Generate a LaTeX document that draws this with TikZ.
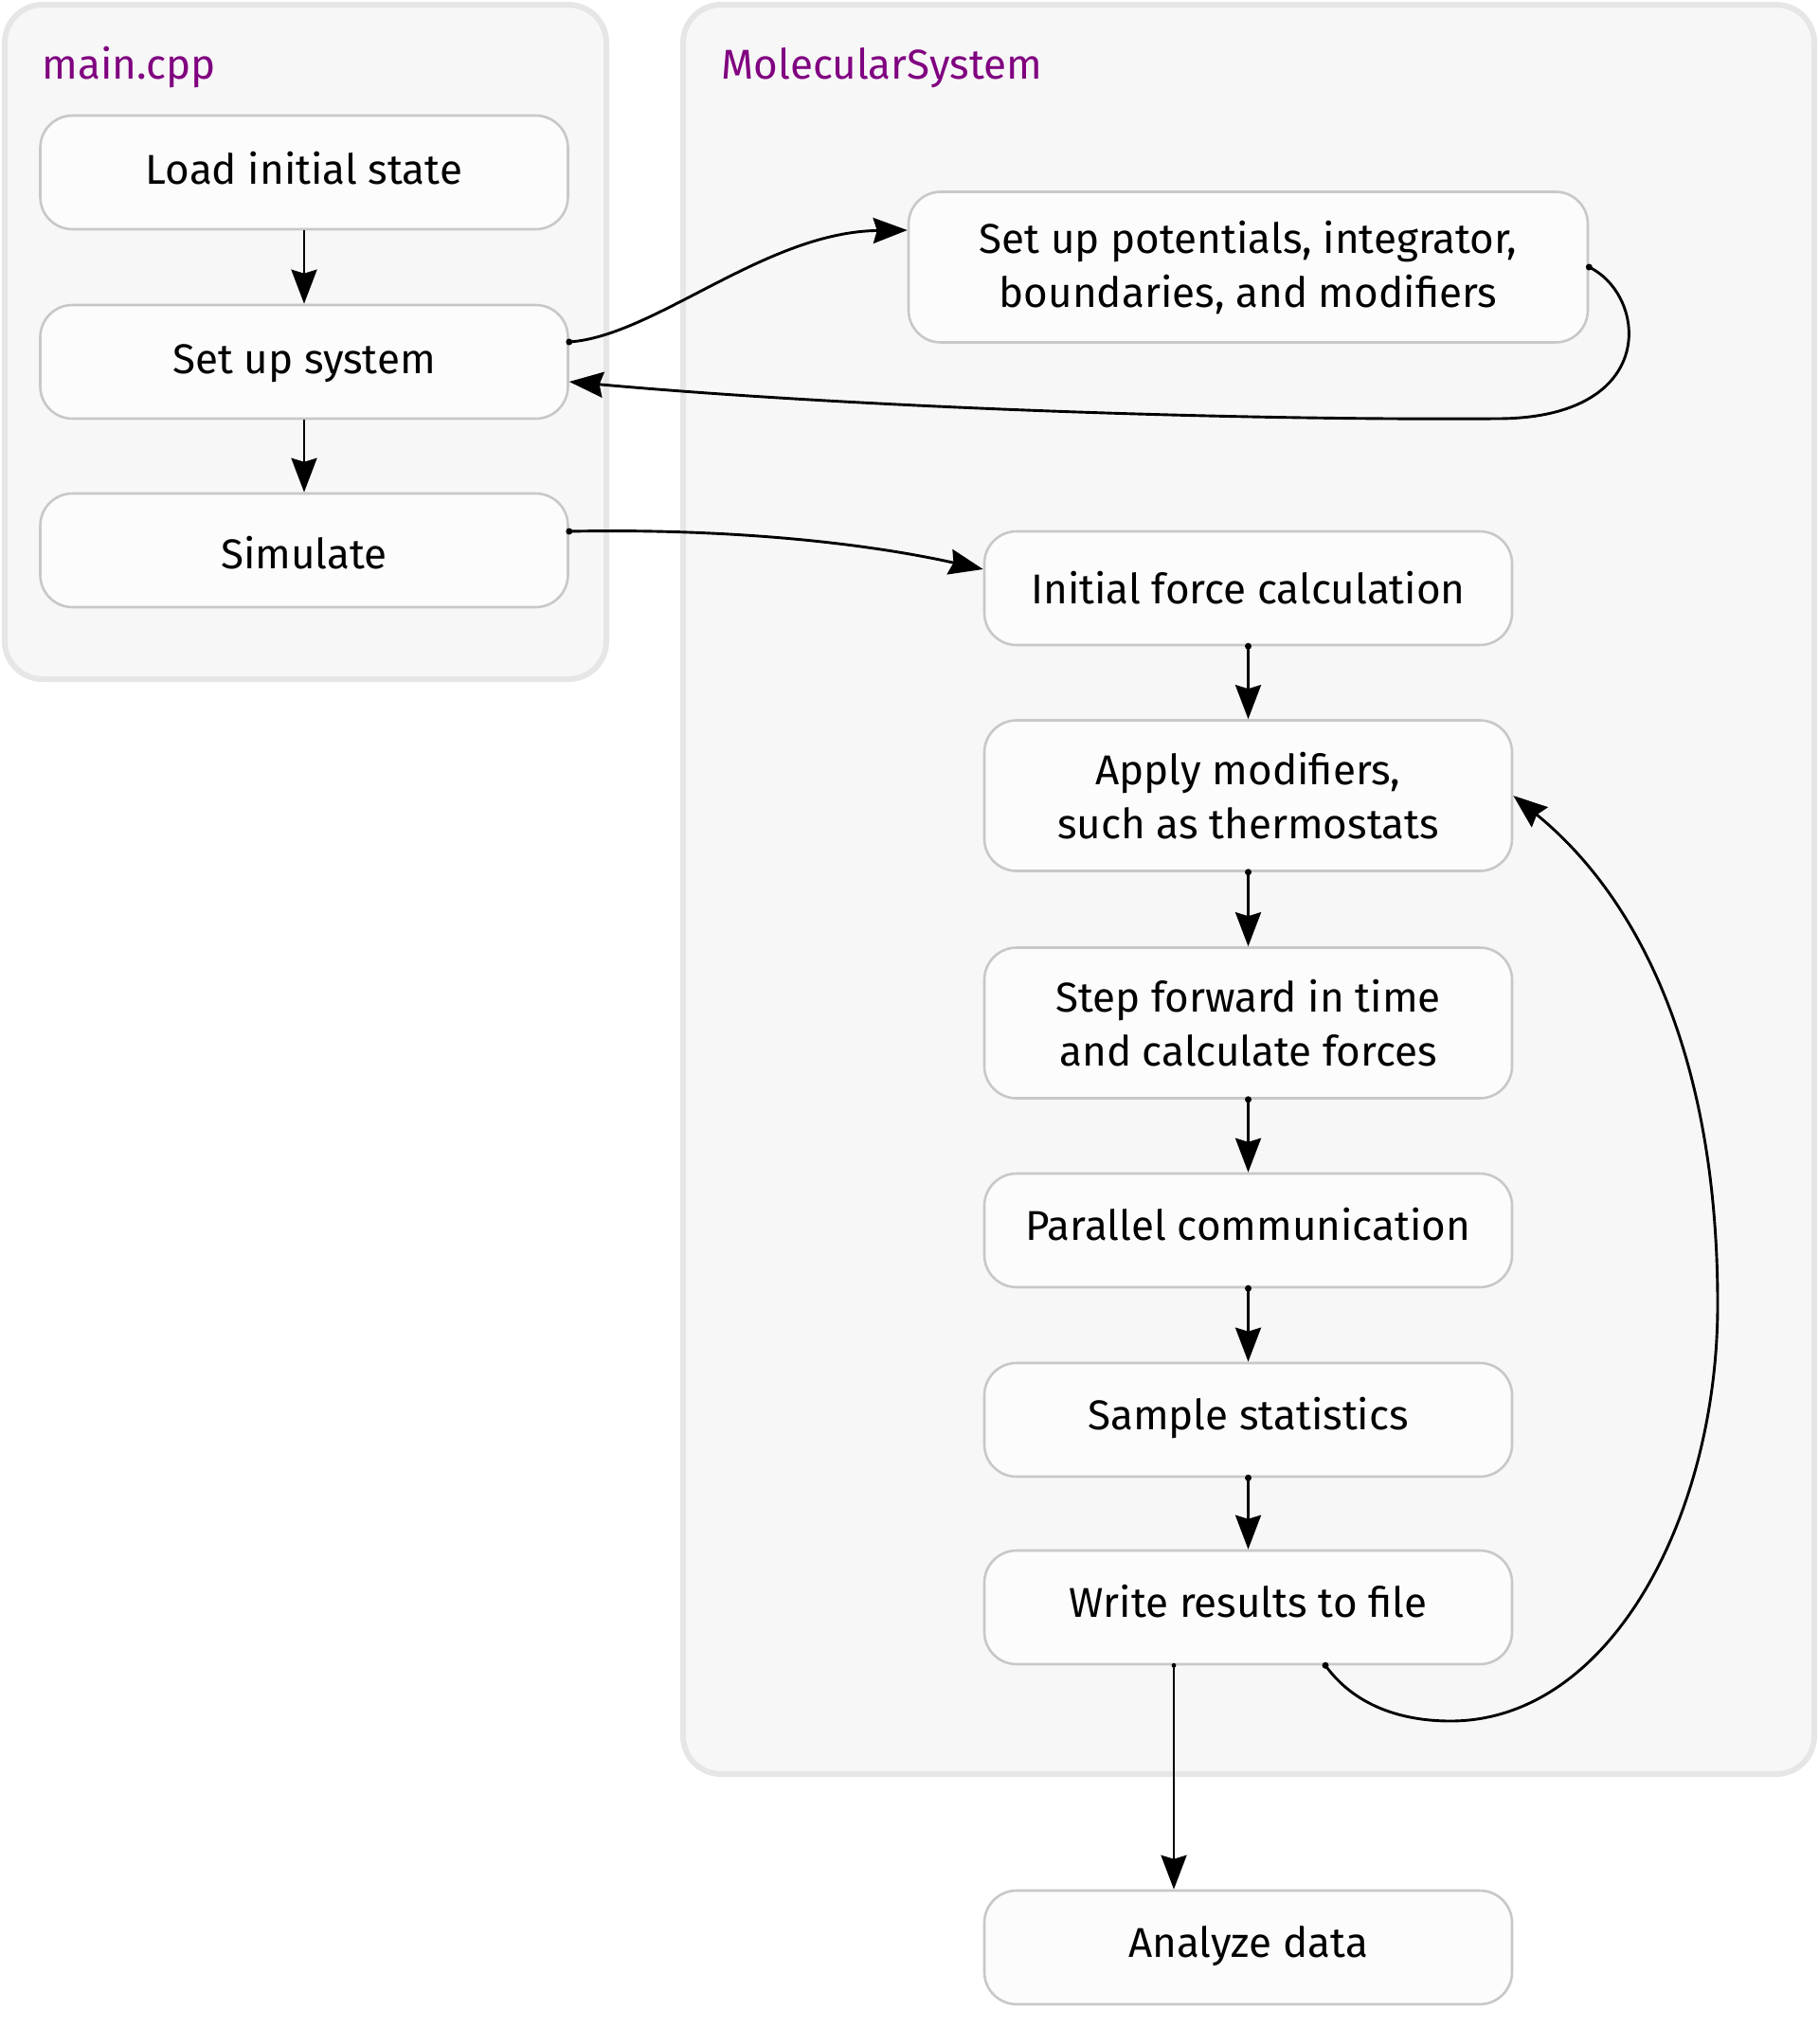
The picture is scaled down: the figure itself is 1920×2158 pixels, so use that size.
\documentclass[tikz,border=0pt]{standalone}
\usepackage{fontspec}
\setmainfont{Fira Sans}
\usetikzlibrary{arrows.meta}
\definecolor{contfill}{HTML}{F7F7F7}
\definecolor{contdraw}{HTML}{E6E6E6}
\definecolor{nodefill}{HTML}{FCFCFC}
\definecolor{nodedraw}{HTML}{C8C8C8}
\definecolor{lblpurple}{HTML}{800080}
\begin{document}
\begin{tikzpicture}[x=0.5pt,y=-0.5pt,
  container/.style={draw=contdraw, fill=contfill, line width=3pt, rounded corners=20pt},
  basebox/.style={draw=nodedraw, fill=nodefill, line width=1.3pt, rounded corners=17pt,
    minimum width=278.5pt, inner sep=0pt, align=center,
    font=\fontsize{22}{28.5}\selectfont},
  box/.style={basebox, minimum height=60pt, text height=15pt, text depth=5pt},
  tallbox/.style={basebox, minimum height=79.5pt},
  lbl/.style={anchor=base west, text=lblpurple, font=\fontsize{22}{26}\selectfont, inner sep=0pt},
  conn/.style={line width=1.45pt, -{Stealth[length=18pt,width=13.5pt,inset=2pt]}},
  startdot/.style={fill=black},
]
\useasboundingbox (0,0) rectangle (1920,2158);
\draw[container] (5,5) rectangle (640,717);
\draw[container] (721,5) rectangle (1915,1873);
\node[lbl] (lmain) at (44,83) {main.cpp};
\node[lbl] (lmol) at (761,83) {MolecularSystem};

\node[box, text height=17pt] (load) at (321,182) {Load initial state};
\node[box, text height=17pt] (setup) at (321,382) {Set up system};
\node[box, text height=24pt] (sim) at (321,581) {Simulate};
\node[tallbox, minimum width=358.5pt] (pot) at (1317.5,282) {Set up potentials, integrator,\\boundaries, and modifiers};
\node[box, text height=21pt] (init) at (1317.5,621) {Initial force calculation};
\node[tallbox] (apply) at (1317.5,840) {Apply modifiers,\\such as thermostats};
\node[tallbox] (step) at (1317.5,1080) {Step forward in time\\and calculate forces};
\node[box] (par) at (1317.5,1299) {Parallel communication};
\node[box] (samp) at (1317.5,1499) {Sample statistics};
\node[box] (write) at (1317.5,1697) {Write results to file};
\node[box] (anal) at (1317.5,2056) {Analyze data};

% main.cpp column
\draw[conn] (load) -- (setup);
\draw[conn] (setup) -- (sim);

% setup -> potentials
\coordinate (s1) at ([yshift=10.5pt]setup.east);
\coordinate (e1) at ([yshift=19.5pt]pot.west);
\fill[startdot] (s1) circle (1.75pt);
\draw[conn] (s1) .. controls +(90,-6) and +(-150,2) .. (e1);

% potentials -> setup
\coordinate (s2) at (pot.east);
\coordinate (m2) at (1580,442);
\coordinate (e2) at ([yshift=-10.5pt]setup.east);
\fill[startdot] (s2) circle (1.75pt);
\draw[conn] (s2) .. controls +(62,30) and +(172,0) .. (m2) .. controls +(-280,2) and +(300,27) .. (e2);

% simulate -> initial force
\coordinate (s3) at ([yshift=10pt]sim.east);
\coordinate (e3) at ([yshift=10pt]init.west);
\fill[startdot] (s3) circle (1.75pt);
\draw[conn] (s3) .. controls +(150,-3) and +(-140,-31) .. (e3);

% column of MolecularSystem
\foreach \a/\b in {init/apply, apply/step, step/par, par/samp, samp/write}{
  \fill[startdot] (\a.south) circle (1.75pt);
  \draw[conn] (\a.south) -- (\b.north);
}

% write -> analyze
\coordinate (s4) at ([xshift=-39.25pt]write.south);
\fill[startdot] (s4) circle (1.2pt);
\draw[conn] (s4) -- (s4 |- anal.north);

% write -> apply (loop)
\coordinate (s5) at ([xshift=40.75pt]write.south);
\coordinate (b1) at (1531,1817);
\coordinate (b2) at (1813,1377);
\fill[startdot] (s5) circle (1.75pt);
\draw[conn] (s5) .. controls +(31,43) and +(-51,0) .. (b1) .. controls +(169,0) and +(0,223) .. (b2) .. controls +(0,-277) and +(123,100) .. (apply.east);
\end{tikzpicture}
\end{document}
